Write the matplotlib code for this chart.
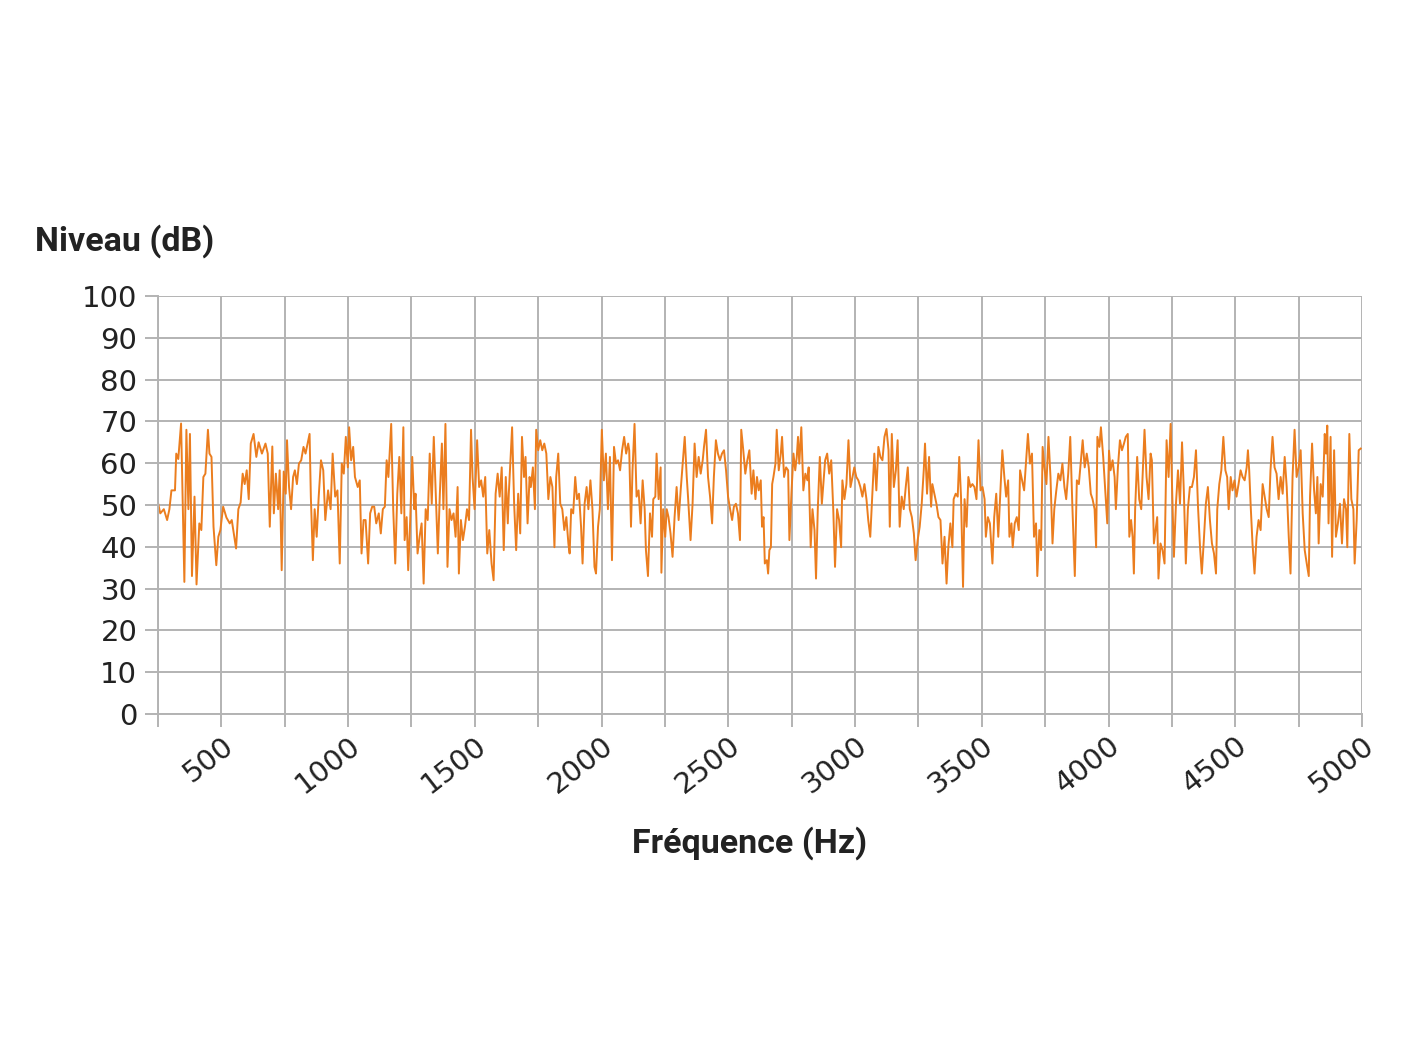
import matplotlib
matplotlib.use("Agg")
import matplotlib.pyplot as plt

# spectrum, in Hz / dB (one row pair per grid block)
freq_hz = [
    250, 259, 273, 286, 295, 303, 317, 322, 330, 341, 346, 354, 362, 370, 376, 384, 394, 402, 413, 421,
    429, 437, 447, 453, 461, 469, 480, 488, 496, 507, 520, 533, 541, 549, 558, 567, 576, 584, 592, 600,
    608, 616, 627, 638, 647, 660, 674, 683, 691, 701,
    707, 715, 724, 730, 738, 746, 754, 759, 767, 775, 783, 790, 798, 806, 815, 824, 832, 840, 848, 853,
    861, 868, 876, 884, 893, 902, 910, 921, 931, 939, 949, 958, 967, 975, 983, 991, 999, 1004, 1012, 1020,
    1027, 1038, 1046, 1053, 1061, 1069, 1079, 1087, 1095, 1103, 1111, 1121, 1129, 1137, 1145, 1152,
    1159, 1170, 1178, 1186, 1194, 1202, 1210, 1218, 1223, 1231, 1237, 1245, 1253, 1261, 1266, 1274, 1282, 1290, 1298, 1306,
    1314, 1322, 1330, 1338, 1346, 1354, 1362, 1370, 1376, 1384, 1392, 1400, 1408, 1416, 1424, 1432, 1437, 1445, 1453, 1461,
    1469, 1477, 1485, 1491, 1499, 1509, 1517, 1525, 1533, 1541, 1549, 1557, 1566, 1574, 1582, 1590, 1598, 1606, 1614, 1622, 1630,
    1634, 1647, 1655, 1663, 1671, 1679, 1686, 1694, 1700, 1708, 1716, 1721, 1729, 1737, 1742, 1750, 1758, 1766, 1774, 1782,
    1790, 1798, 1806, 1814, 1821, 1829, 1837, 1845, 1853, 1861, 1869, 1874, 1880, 1888, 1896, 1903, 1911, 1919, 1925, 1933,
    1941, 1948, 1956, 1964, 1972, 1978, 1986, 1993, 2001, 2009, 2017, 2025, 2033, 2041, 2049, 2057, 2065, 2073, 2081, 2089, 2097, 2105,
    2109, 2116, 2122, 2130, 2138, 2146, 2154, 2162, 2170, 2175, 2183, 2191, 2199, 2204, 2212, 2217, 2225, 2233, 2236, 2243,
    2251, 2257, 2264, 2272, 2280, 2288, 2296, 2304, 2312, 2320, 2328, 2336, 2341, 2351, 2359, 2367, 2375, 2383, 2391, 2399,
    2404, 2412, 2420, 2428, 2436, 2443, 2451, 2459, 2467, 2475, 2483, 2491, 2499, 2507, 2515, 2522, 2530, 2538, 2546, 2551,
    2559, 2567, 2575, 2583,
    2592, 2599, 2607, 2613, 2620, 2628, 2633, 2639, 2644, 2652, 2657, 2662, 2668, 2673, 2678, 2686, 2691, 2699, 2707, 2712,
    2720, 2728, 2736, 2741, 2749, 2757, 2764, 2770, 2775, 2780, 2788, 2796, 2804, 2812, 2817, 2825, 2832, 2840, 2846, 2853,
    2861, 2869, 2877, 2882, 2890, 2898, 2906, 2914, 2921, 2929, 2937, 2945, 2950, 2958, 2966, 2974, 2982, 2990, 2997, 3005,
    3013, 3021, 3029, 3037, 3045, 3052, 3060,
    3076, 3084, 3092, 3100, 3108, 3116, 3124, 3132, 3137, 3145, 3153, 3161, 3168, 3176, 3184, 3192, 3200, 3208, 3216, 3224,
    3232, 3239, 3247, 3255, 3263, 3271, 3276, 3284, 3292, 3300, 3305, 3313, 3321, 3329, 3337, 3345, 3353, 3361, 3368, 3376,
    3384, 3389, 3397, 3405, 3411, 3418, 3426, 3432, 3440, 3447, 3455, 3463, 3471, 3479, 3487, 3495, 3503, 3511, 3516, 3524, 3532,
    3542, 3549, 3557, 3565, 3573, 3581, 3589, 3596, 3604, 3609, 3617, 3622, 3630, 3638, 3646, 3651, 3659, 3667, 3674, 3682,
    3690, 3698, 3706, 3714, 3719, 3727, 3734, 3740, 3747, 3755, 3763, 3771, 3779, 3786, 3794, 3802, 3810, 3818, 3826, 3833,
    3841, 3849, 3857, 3867, 3875, 3883, 3891, 3898, 3906, 3914, 3922, 3930, 3937, 3945, 3951, 3956, 3964, 3970, 3979, 3987, 3995,
    4002, 4008, 4016, 4024, 4029, 4037, 4045, 4053, 4061, 4068, 4076, 4082, 4089, 4095, 4100, 4105, 4113, 4121, 4129, 4137,
    4142, 4150, 4158, 4166, 4171, 4179, 4187, 4192, 4197, 4205, 4213, 4221, 4229, 4237, 4245, 4250, 4258, 4266, 4274, 4282,
    4290, 4297, 4305, 4313, 4321, 4329, 4337, 4345, 4353, 4361, 4368, 4376, 4384, 4392, 4400, 4408, 4416, 4424, 4429, 4437,
    4445, 4453, 4461, 4468,
    4474, 4482, 4489, 4497, 4505, 4513, 4521, 4529, 4537, 4545, 4550, 4555, 4561, 4568, 4576, 4584, 4592, 4600, 4608, 4616,
    4624, 4632, 4639, 4647, 4655, 4663, 4671, 4679, 4687, 4695, 4703, 4711, 4718, 4726, 4734, 4742, 4750, 4758, 4766, 4774,
    4782, 4790, 4795, 4803, 4811, 4818, 4824, 4829, 4837, 4845, 4853, 4858, 4863, 4868, 4876, 4882, 4890, 4897, 4905, 4913,
    4921, 4929, 4937, 4942, 4950, 4958, 4966, 4971, 4979, 4987, 4995,
]
level_db = [
    50.5, 48, 49, 46.4, 49, 53.5, 53.5, 62.3, 61, 69.5, 55, 31.6, 68, 49, 67, 33, 52, 31, 45.6, 44,
    56.7, 57.5, 68, 62.3, 61.5, 44.8, 35.6, 42.4, 44, 49.6, 47, 45.6, 46.4, 43.2, 39.6, 49, 50.6, 57.5, 55, 58.3,
    51.4, 64.7, 67, 61.5, 65, 62.3, 64.7, 62.3, 44.8, 64,
    48, 57.5, 49, 58.3, 34.4, 58, 52.7, 65.5, 54.3, 49, 56.7, 58.3, 55, 59.9, 60.7, 63.9, 62.3, 64.7, 67, 52,
    36.8, 49, 42.4, 52, 60.7, 58.3, 46.4, 53.5, 49, 62.3, 52, 53.5, 36, 59.9, 57.5, 66.3, 59, 68.6, 60.7, 63.9,
    56.7, 54.3, 55.9, 38.4, 46.4, 46.4, 36, 48, 49.6, 49.6, 45.6, 48, 43.2, 49, 49.6, 60.7,
    56.7, 69.4, 49, 36, 52.7, 61.5, 48, 68.6, 41.6, 47.1, 34.4, 46.4, 61.5, 49, 52.7, 38.4, 42.4, 45.6, 31.2, 49,
    46.4, 62.3, 50.3, 66.3, 52.7, 38.4, 52.7, 64.7, 49, 69.4, 35.2, 49, 46.4, 48, 42.4, 54.3, 33.6, 46.4, 41.6, 44.8,
    49, 46.4, 68, 56.7, 49, 65.5, 54.3, 55.9, 52, 56.7, 38.4, 44, 36, 32, 52.7, 57.5, 52, 59, 39.2, 56.7, 45.6,
    52.7, 68.6, 50.3, 39.2, 52.7, 43.2, 66.3, 56.7, 61.5, 45.6, 56.7, 54.3, 59, 49, 68, 63.1, 65.5, 63.1, 64.7, 62.3,
    51.4, 56.7, 54.3, 39.9, 56.7, 62.3, 50.3, 49, 44, 47.1, 40.8, 38.4, 49, 48, 56.7, 51.4, 52.7, 44.8, 36, 50.3,
    54.3, 49, 55.9, 49, 35.2, 33.6, 44.8, 49, 68, 55.9, 62.3, 49, 61.5, 36.8, 63.9, 59.9, 60.7, 58.3, 63.1, 66.3, 62.3, 64.7,
    63.1, 44.8, 58.3, 69.4, 52, 53.5, 45.6, 55.9, 49, 39.2, 33, 48, 42.4, 51.4, 52, 62.3, 51.4, 59, 33.8, 49,
    42.4, 49, 47.1, 43.2, 37.6, 47.1, 54.3, 46.4, 53.5, 59.9, 66.3, 56.7, 52, 41.6, 50.3, 64.7, 56.7, 61.5, 57.5, 60.7,
    63.9, 68, 56.7, 52, 45.6, 56.7, 65.5, 62.3, 60.7, 62.3, 63.1, 58.3, 52, 49, 46.4, 49.6, 50.3, 48, 41.6, 68,
    63.1, 57.5, 60.7, 63.1,
    52.7, 58.3, 51.4, 56.7, 53.5, 55.9, 44.8, 47.1, 36, 36.8, 33.6, 39.2, 39.9, 55, 56.7, 59.9, 68, 58.3, 62.3, 66.3,
    56.7, 59, 58.3, 41.6, 52.7, 62.3, 58.3, 61.5, 66.3, 59.9, 68.6, 53.5, 57.5, 55.9, 59, 39.9, 49, 44, 32.4, 49,
    61.5, 50.3, 56.7, 60.7, 62.3, 57.5, 60.7, 49, 35.2, 49, 46.4, 39.9, 55.9, 51.4, 55, 65.5, 54.3, 56.7, 59, 56.7,
    55.9, 54.3, 52, 55, 51.4, 46.4, 42.4,
    62.3, 53.5, 63.9, 61.5, 60.7, 66.3, 68.2, 63.1, 44.8, 67, 54.3, 58.3, 65.5, 44.8, 52, 49, 54.3, 59, 49, 47.1,
    43.2, 36.8, 41.6, 44.8, 50.3, 58.3, 64.7, 52.7, 61.5, 49.6, 55, 52.7, 50.3, 47.1, 46.4, 36, 42.4, 31.2, 39.9, 45.6,
    39.9, 51.4, 52.7, 52, 61.5, 52, 30.4, 51.4, 44.8, 56.7, 54.3, 55, 54.3, 51.4, 65.5, 53.5, 54.3, 51.4, 42.4, 47.1, 45.6,
    36, 47.1, 52.7, 42.4, 52.7, 63.1, 56.7, 52, 55.9, 42.4, 45.6, 39.9, 45.6, 47.1, 44, 58.3, 55.9, 53.5, 59.9, 67,
    59.9, 62.3, 42.4, 45.6, 33, 44, 39.2, 63.9, 59, 55, 66.3, 56.7, 40.8, 49, 53.5, 57.5, 55.9, 59.9, 54.3, 51.4,
    57.5, 66.3, 50.3, 33, 55.9, 55, 60.7, 65.5, 59, 62.3, 59, 52.7, 51.4, 49, 39.9, 66.3, 63.9, 68.6, 61.5, 53.5, 45.6,
    63, 58.3, 60.7, 56.7, 49, 59, 65.5, 63.1, 64.7, 66.3, 67, 42.4, 46.4, 42.4, 33.6, 49, 61.5, 51.4, 49, 60.7,
    68, 56.7, 51.4, 62.3, 60.7, 40.8, 44.8, 47.1, 32.4, 40.8, 39.2, 36, 65.5, 56.7, 69.4, 55.9, 37.6, 50.3, 58.3, 50.3,
    65, 53.5, 36, 49, 54.3, 54.3, 56.7, 63.1, 49.6, 39.9, 33.6, 41.6, 50.3, 54.3, 46.4, 40.8, 38.4, 33.6, 49, 55,
    58.3, 66.3, 58.3, 56.7,
    49, 56.7, 53.5, 55.9, 52, 55, 58.3, 56.7, 55.9, 59, 63.1, 58.3, 49.6, 40.8, 33.6, 42.4, 46.4, 44, 55, 52,
    49, 47.1, 58.3, 66.3, 59, 57.5, 51.4, 56.7, 52.7, 61.5, 54.3, 42.4, 33.6, 56.7, 68, 56.7, 59, 63.1, 48, 39.2,
    36, 33, 52, 64.7, 53.5, 48, 56.7, 40.8, 55, 52, 67, 62.3, 69, 45.6, 66.3, 37.6, 63.1, 42.4, 45.6, 50.3,
    40.8, 51.4, 49, 39.9, 67, 51.4, 49, 36, 46.4, 63.1, 63.5,
]
assert len(freq_hz) == len(level_db), (len(freq_hz), len(level_db))

x_ticks = list(range(250, 5001, 250))
x_labels = [str(t) if t % 500 == 0 else '' for t in x_ticks]
y_ticks = list(range(0, 101, 10))

GRID = '#b3b3b3'
ORANGE = '#eb7d1e'
W, H = 1416, 1062

fig = plt.figure(figsize=(W / 100, H / 100), dpi=100)
ax = fig.add_axes([158 / W, 1 - 714 / H, (1362 - 158) / W, (714 - 296) / H])

ax.plot(freq_hz, level_db, color=ORANGE, lw=1.4)
ax.set_xlim(250, 5000)
ax.set_ylim(0, 100)
ax.set_xticks(x_ticks)
ax.set_xticklabels(x_labels)
ax.set_yticks(y_ticks)
ax.grid(color=GRID, lw=1.4)
ax.set_axisbelow(True)
for side in ['top', 'right']:
    ax.spines[side].set_visible(False)
for side in ['left', 'bottom']:
    ax.spines[side].set_color(GRID)
    ax.spines[side].set_linewidth(1.4)

ax.tick_params(axis='both', color=GRID, length=9.4, width=1.4,
               labelsize=21, labelcolor='#222222')
ax.tick_params(axis='y', pad=5.5)
ax.tick_params(axis='x', pad=3)
plt.setp(ax.get_xticklabels(), rotation=38, ha='right', va='top',
         rotation_mode='anchor', family='DejaVu Sans')
plt.setp(ax.get_yticklabels(), family='DejaVu Sans')

fig.text(35 / W, 1 - 241 / H, 'Niveau (dB)', ha='left', va='center',
         fontsize=24.5, fontweight='bold', family='Roboto', color='#222222')
fig.text(750 / W, 1 - 843 / H, 'Fréquence (Hz)', ha='center', va='center',
         fontsize=24.5, fontweight='bold', family='Roboto', color='#222222')

fig.savefig('out.png', dpi=100)
